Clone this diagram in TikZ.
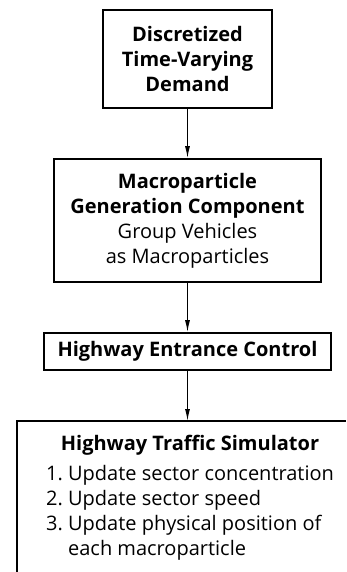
\documentclass[tikz,border=0pt]{standalone}
\usepackage{fontspec}
\setmainfont{Open Sans}
\usetikzlibrary{arrows.meta}
\begin{document}
\begin{tikzpicture}[x=1pt,y=-1pt,
  font=\fontsize{20}{25}\selectfont,
  box/.style={draw, line width=1.6pt, align=center, inner sep=0pt},
  arr/.style={-{Latex[length=12pt,width=5pt]}, line width=1.2pt}]
\useasboundingbox (0,0) rectangle (346,572);
% the three boxes
\node[box, minimum width=169pt, minimum height=98pt] (demand) at (187.5,59)
  {\textbf{Discretized}\\\textbf{Time-Varying}\\\textbf{Demand}};
\node[box, minimum width=267pt, minimum height=123pt] (macrogen) at (187.5,220.5)
  {\textbf{Macroparticle}\\\textbf{Generation Component}\\Group Vehicles\\as Macroparticles};
\node[box, minimum width=287pt, minimum height=37pt] (entrance) at (187.5,351.5)
  {\textbf{Highway Entrance Control}};
% simulator box, cut off at the bottom and right
\draw[line width=1.6pt] (17,572) -- (17,421) -- (346,421);
\coordinate (simtop) at (187.5,421);
\node[anchor=base, inner sep=0pt] (simtitle) at (190,450) {\textbf{Highway Traffic Simulator}};
\node[anchor=base west, inner sep=0pt] (simsteps) at (46,480)
  {\begin{tabular}[t]{@{}r@{\ }l@{}}
   1.&Update sector concentration\\
   2.&Update sector speed\\
   3.&Update physical position of\\
     &each macroparticle
   \end{tabular}};
\draw[arr] (demand) -- (macrogen);
\draw[arr] (macrogen) -- (entrance);
\draw[arr] (entrance) -- (simtop);
\end{tikzpicture}
\end{document}
